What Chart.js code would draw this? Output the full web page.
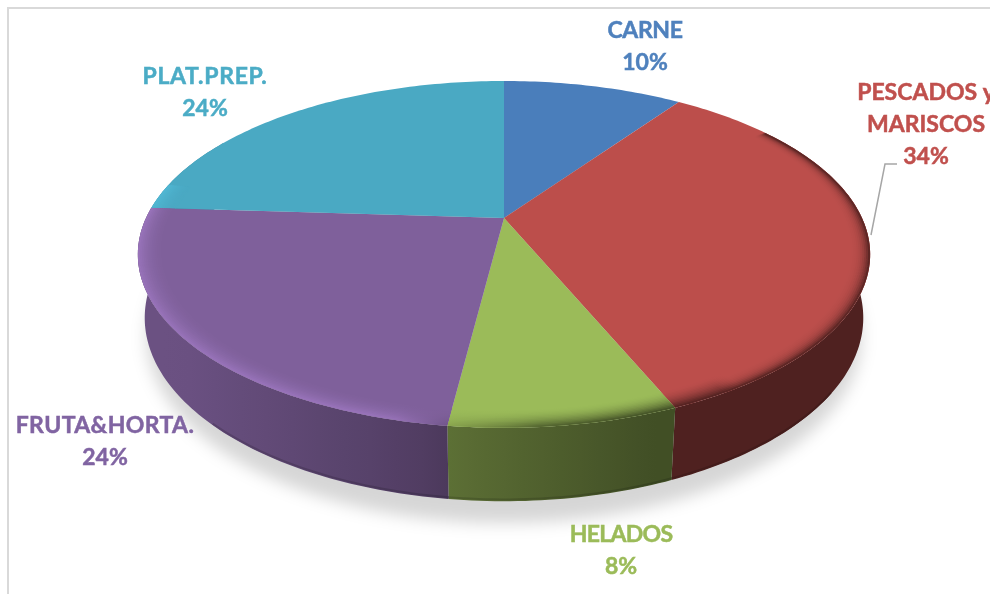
<!DOCTYPE html>
<html>
<head>
<meta charset="utf-8">
<script src="https://cdn.jsdelivr.net/npm/chart.js@4"></script>
<style>
  html, body { margin: 0; padding: 0; background: #fff; overflow: hidden; }
  #wrap { position: relative; width: 990px; height: 594px; }
</style>
</head>
<body>
<div id="wrap"><canvas id="pie" width="990" height="594"></canvas></div>
<script>
const categories = ['CARNE', 'PESCADOS y MARISCOS', 'HELADOS', 'FRUTA&HORTA.', 'PLAT.PREP.'];
// slice sizes as measured on the picture, labels print them rounded
const shares = [9.7, 34, 8.3, 24, 24];

const sliceColors = ['#4a7ebb', '#bc4e4b', '#9bbb59', '#7f609b', '#4aa9c3'];
const labelColors = ['#4f81bd', '#c0504d', '#9bbb59', '#8064a2', '#4bacc6'];

// label lines + where they sit (center x, baseline of first line)
const labelLines = [['CARNE'], ['PESCADOS y', 'MARISCOS'], ['HELADOS'], ['FRUTA&HORTA.'], ['PLAT.PREP.']];
const labelSpots = [[645, 38], [926, 100], [621, 542], [105, 433], [205, 84]];
const labelTracking = [-0.4, 0, -0.7, 0.4, 0.7];

// perspective of the disc, fitted to the reference
const view = { cx: 504, cy: 218, bx: 358, ay: 165.8, k: 0.21, depth: 62, taper: 0.018, rim: 0.93 };

const STEP = Math.PI / 180;

function project (t, r, z) {
  const x = r * Math.sin(t) * (1 - view.taper * z);
  const y = -r * Math.cos(t) * (1 - view.taper * z);
  const w = 1 - view.k * y;
  return [view.cx + view.bx * x / w, view.cy + (view.ay * y + view.depth * z) / w];
}

function hexRgb (hex) {
  return [1, 3, 5].map(i => parseInt(hex.slice(i, i + 2), 16));
}

function tint (rgb, m) {
  return `rgb(${rgb.map(c => Math.min(255, Math.round(c * m))).join(',')})`;
}

// how dark the side wall gets, by angle (clockwise from top, degrees)
function wallShade (deg) {
  if (deg > 195) return Math.min(0.84, 0.647 + (deg - 195) * 0.0037);
  return Math.max(0.42, 0.4 + (deg - 157) * 0.0065);
}

function rimTarget (deg) {
  if (deg <= 175) return wallShade(deg);
  if (deg >= 200) return 1.2;
  const u = (deg - 175) / 25;
  return wallShade(deg) * (1 - u) + 1.2 * u;
}

function rimAmount (deg) {
  if (deg < 55 || deg > 282) return 0;
  if (deg < 90) return Math.pow((deg - 55) / 35, 2);
  if (deg > 262) return (282 - deg) / 20;
  return 1;
}

// arcs come from the chart; angles turned so 0 is top and clockwise is positive
function arcRange (arc) {
  const p = arc.getProps(['startAngle', 'endAngle'], true);
  return [p.startAngle + Math.PI / 2, p.endAngle + Math.PI / 2];
}

// left-to-right gradient along the front of a slice, colour picked per angle
function sideGradient (ctx, a0, a1, r, colorAt) {
  const lo = Math.max(a0, 103 * STEP);
  const hi = Math.min(a1, 257 * STEP);
  if (hi <= lo) return colorAt(a0 / STEP);
  const xa = project(lo, r, 0)[0];
  const xb = project(hi, r, 0)[0];
  const g = ctx.createLinearGradient(xa, 0, xb, 0);
  const n = 12;
  for (let i = 0; i <= n; i++) {
    g.addColorStop(i / n, colorAt((lo + (hi - lo) * i / n) / STEP));
  }
  return g;
}

function trace (ctx, a0, a1, r, z, first) {
  const pts = [];
  for (let t = a0; t < a1; t += STEP) pts.push(project(t, r, z));
  pts.push(project(a1, r, z));
  pts.forEach((p, i) => {
    if (i === 0 && first) ctx.moveTo(p[0], p[1]); else ctx.lineTo(p[0], p[1]);
  });
}

function traceBack (ctx, a0, a1, r, z) {
  ctx.lineTo(...project(a1, r, z));
  for (let t = a1; t > a0; t -= STEP) ctx.lineTo(...project(t, r, z));
  ctx.lineTo(...project(a0, r, z));
}

function drawShadow (ctx) {
  ctx.save();
  ctx.filter = 'blur(8px)';
  ctx.fillStyle = 'rgba(0,0,0,0.16)';
  ctx.beginPath();
  trace(ctx, 0, Math.PI * 2, 1, 1.3, true);
  ctx.closePath();
  ctx.fill();
  ctx.restore();
}

function drawWalls (ctx, arcs) {
  arcs.forEach((arc, i) => {
    const rgb = hexRgb(sliceColors[i]);
    let [a0, a1] = arcRange(arc);
    a0 = Math.max(a0, 60 * STEP);
    a1 = Math.min(a1, 300 * STEP);
    if (a1 <= a0) return;
    ctx.beginPath();
    trace(ctx, a0, a1, 1, 0, true);
    traceBack(ctx, a0, a1, 1, 1);
    ctx.closePath();
    ctx.fillStyle = sideGradient(ctx, a0, a1, 1, deg => tint(rgb, wallShade(deg)));
    ctx.fill();
    // darker lip along the bottom, only on the front part
    const l0 = Math.max(a0, 125 * STEP);
    const l1 = Math.min(a1, 225 * STEP);
    if (l1 > l0) {
      ctx.beginPath();
      trace(ctx, l0, l1, 1, 0.975, true);
      ctx.strokeStyle = sideGradient(ctx, a0, a1, 1, deg => tint(rgb, wallShade(deg) * 0.85));
      ctx.lineWidth = 2;
      ctx.stroke();
    }
  });
}

function topPath (ctx, a0, a1) {
  ctx.beginPath();
  ctx.moveTo(view.cx, view.cy);
  trace(ctx, a0, a1, 1, 0, false);
  ctx.closePath();
}

function drawTops (ctx, arcs) {
  arcs.forEach((arc, i) => {
    const [a0, a1] = arcRange(arc);
    topPath(ctx, a0, a1);
    ctx.fillStyle = sliceColors[i];
    ctx.fill();
  });
}

// bevel band at the edge of the disc: rings stroked inner to outer
function drawRim (ctx, arcs) {
  const rings = 14;
  arcs.forEach((arc, i) => {
    const rgb = hexRgb(sliceColors[i]);
    let [a0, a1] = arcRange(arc);
    ctx.save();
    topPath(ctx, a0, a1);
    ctx.clip();
    a0 = Math.max(a0, 55 * STEP);
    a1 = Math.min(a1, 282 * STEP);
    if (a1 > a0) {
      for (let j = 0; j < rings; j++) {
        const r = view.rim + (1 - view.rim) * (j + 0.5) / rings;
        const u = (j + 0.5) / rings;
        const colorAt = deg => {
          const f = Math.pow(u, deg < 140 ? 4 : 2) * rimAmount(deg);
          return tint(rgb, 1 + (rimTarget(deg) - 1) * f);
        };
        ctx.beginPath();
        trace(ctx, a0, a1, r, 0, true);
        ctx.strokeStyle = sideGradient(ctx, a0, a1, r, colorAt);
        ctx.lineWidth = 2.4;
        ctx.stroke();
      }
    }
    ctx.restore();
  });
}

const pie3d = {
  id: 'pie3d',
  beforeDatasetsDraw (chart) {
    const ctx = chart.ctx;
    const arcs = chart.getDatasetMeta(0).data;
    ctx.save();
    drawShadow(ctx);
    drawWalls(ctx, arcs);
    drawTops(ctx, arcs);
    drawRim(ctx, arcs);
    ctx.restore();
    return false;
  },
  afterDraw (chart) {
    const ctx = chart.ctx;
    ctx.save();
    // frame, only top and left fall inside the picture
    ctx.strokeStyle = '#d9d9d9';
    ctx.lineWidth = 2;
    ctx.beginPath();
    ctx.moveTo(8, 594);
    ctx.lineTo(8, 8);
    ctx.lineTo(990, 8);
    ctx.stroke();
    // leader for PESCADOS
    ctx.strokeStyle = '#a6a6a6';
    ctx.lineWidth = 1.5;
    ctx.beginPath();
    ctx.moveTo(871, 235);
    ctx.lineTo(885, 164);
    ctx.lineTo(897, 164);
    ctx.stroke();
    // labels
    ctx.font = 'bold 23px Lato, sans-serif';
    ctx.textAlign = 'center';
    ctx.textBaseline = 'alphabetic';
    ctx.lineWidth = 0.5;
    labelLines.forEach((lines, i) => {
      const [x, y] = labelSpots[i];
      ctx.fillStyle = labelColors[i];
      ctx.strokeStyle = labelColors[i];
      lines.concat(Math.round(shares[i]) + '%').forEach((txt, n) => {
        ctx.letterSpacing = (txt.endsWith('%') ? 0 : labelTracking[i]) + 'px';
        ctx.fillText(txt, x, y + n * 32);
        ctx.strokeText(txt, x, y + n * 32);
      });
    });
    ctx.restore();
  }
};

new Chart(document.getElementById('pie'), {
  type: 'pie',
  data: {
    labels: categories,
    datasets: [{ data: shares, backgroundColor: sliceColors, borderWidth: 0 }]
  },
  options: {
    responsive: false,
    animation: false,
    plugins: { legend: { display: false }, tooltip: { enabled: false } }
  },
  plugins: [pie3d]
});
</script>
</body>
</html>
